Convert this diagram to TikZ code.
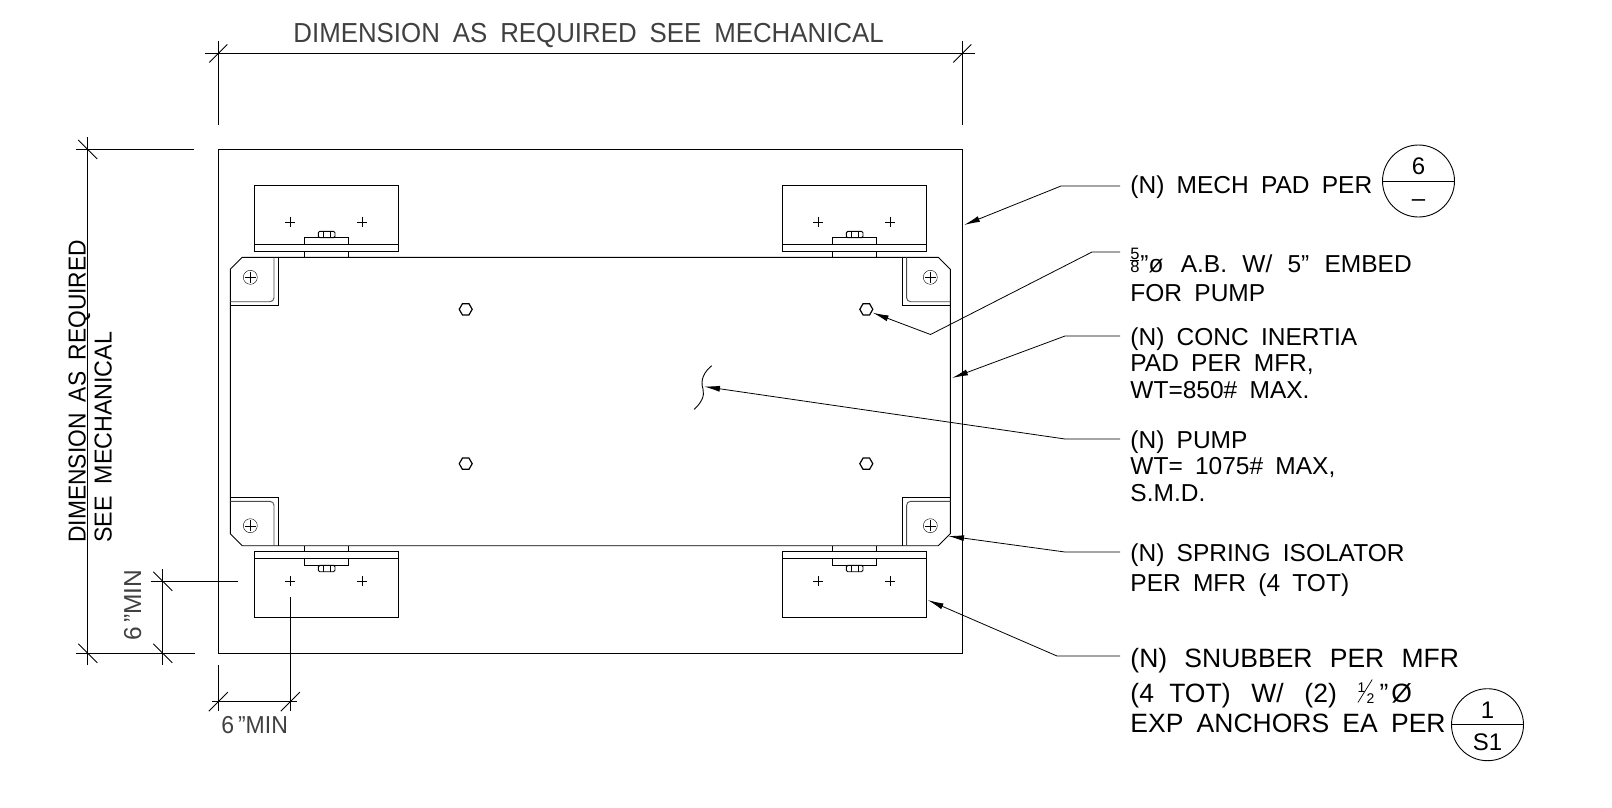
\documentclass[tikz,border=0pt]{standalone}
\usepackage{fontspec}
\setmainfont[WordSpace=1.8]{Liberation Sans}
\usetikzlibrary{arrows.meta,shapes.geometric,shapes.multipart}
\newcommand{\stackfive}{\rlap{\raisebox{13pt}{\fontsize{16.5}{16.5}\selectfont 5}}\rlap{\fontsize{16.5}{16.5}\selectfont 8}\rlap{\rule[12pt]{9pt}{.7pt}}\hspace{10pt}}
\newcommand{\halfmark}{\rlap{\raisebox{10pt}{\fontsize{14}{14}\selectfont 1}}\rlap{\hspace{9pt}\raisebox{-1pt}{\fontsize{14}{14}\selectfont 2}}\rlap{\rotatebox{58}{\rule{27pt}{.7pt}}}\hspace{19pt}}
\tikzset{
  snubber/.pic = {
    \draw (0,-216.2) rectangle (144,-150.2);
    \draw (0,-157.2) -- (144,-157.2);
    \draw (50.4,-157.2) -- (50.4,-164.2) -- (93.7,-164.2) -- (93.7,-157.2);
    \draw (50.4,-150.2) -- (50.4,-144.2) (93.7,-150.2) -- (93.7,-144.2);
    \draw[rounded corners=1.5pt] (64,-163.8) rectangle (80.7,-170.2);
    \draw[thin] (69,-163.8) -- (69,-170.2) (75.7,-163.8) -- (75.7,-170.2);
    \draw[thin] (31,-179.8) -- (41,-179.8) (36,-174.8) -- (36,-184.8);
    \draw[thin] (103,-179.8) -- (113,-179.8) (108,-174.8) -- (108,-184.8);
  },
  bracket/.pic = {
    \draw (0,48) -- (48,48) -- (48,0);
    \draw[rounded corners=4pt, black!70] (0,44.4) -- (43.7,44.4) -- (43.7,0);
    \draw[thin] (20,20) circle (7);
    \draw[thin] (14.5,20) -- (25.5,20) (20,14.5) -- (20,25.5);
  }
}
\begin{document}
\begin{tikzpicture}[
  x=1pt, y=-1pt, line width=.9pt,
  note/.style = {anchor=north west, align=left, inner sep=0pt,
    font=\fontsize{24.5}{26.5}\selectfont},
  bignote/.style = {note, font=\fontsize{26.5}{30}\selectfont},
  dimtext/.style = {inner sep=0pt, text=black!75, font=\fontsize{24.5}{27}\selectfont},
  leader/.style = {line width=.8pt, -{Latex[length=16pt,width=6pt]}},
  refmark/.style = {circle split, draw, minimum size=72pt, inner sep=1pt,
    font=\fontsize{24}{24}\selectfont},
  boltmark/.style = {regular polygon, regular polygon sides=6, draw, line width=1.2pt, minimum size=13pt, inner sep=0pt}]
\useasboundingbox (0,0) rectangle (1612,807);
% pad and inertia base
\draw (218.3,149.5) rectangle (962.3,653.3);
\draw (242.3,257.3) -- (938.3,257.3) -- (950.3,269.3) -- (950.3,533.7) -- (938.3,545.7)
  -- (242.3,545.7) -- (230.3,533.7) -- (230.3,269.3) -- cycle;
\foreach \x in {254.3,782.3} {
  \pic at (\x,401.5) {snubber};
  \pic[yscale=-1] at (\x,401.5) {snubber};
}
\pic at (230.3,257.3) {bracket};
\pic[xscale=-1] at (950.3,257.3) {bracket};
\pic[yscale=-1] at (230.3,545.7) {bracket};
\pic[xscale=-1,yscale=-1] at (950.3,545.7) {bracket};
\node[boltmark] (boltnw) at (465.7,309.3) {};
\node[boltmark] (boltne) at (866.3,309.3) {};
\node[boltmark] (boltsw) at (465.7,463.7) {};
\node[boltmark] (boltse) at (866.3,463.7) {};
\draw (711.7,365.7) .. controls (704,372) and (700,380) .. (703,389)
  .. controls (705,396) and (701,403) .. (694.3,409.3);
% dimensions
\draw (205,53.5) -- (975,53.5);
\draw (218.3,41) -- (218.3,125) (962.3,41) -- (962.3,125);
\foreach \x in {218.3,962.3} \draw (\x-9,62.5) -- (\x+9,44.5);
\draw (75.7,149.5) -- (194,149.5) (75.7,653.3) -- (195,653.3);
\draw (87.7,137) -- (87.7,665);
\draw (162.7,569.3) -- (162.7,665);
\draw (150.7,581.3) -- (238.3,581.3);
\foreach \p in {(87.7,149.5),(87.7,653.3),(162.7,581.3),(162.7,653.3)}
  \draw \p +(-9.5,-9.5) -- +(9.5,9.5);
\draw (212.3,701.7) -- (296.7,701.7);
\draw (218.3,665.3) -- (218.3,711) (290.3,597.3) -- (290.3,711);
\foreach \p in {(218.3,701.7),(290.3,701.7)}
  \draw \p +(-9.5,9.5) -- +(9.5,-9.5);
\node[dimtext, anchor=base west, xscale=.94, font=\fontsize{27.5}{30}\selectfont] (widthdim) at (293,42.7) {DIMENSION  AS  REQUIRED  SEE  MECHANICAL};
\node[dimtext, anchor=base west, rotate=90, xscale=.93, text=black] (depthdim) at (85.7,543) {DIMENSION AS REQUIRED};
\node[dimtext, anchor=base west, rotate=90, xscale=.95, text=black] (depthdimb) at (111.7,543) {SEE MECHANICAL};
\node[dimtext, anchor=base west, rotate=90] (edgedimy) at (141,641) {6\,”MIN};
\node[dimtext, anchor=base west, xscale=.94] (edgedimx) at (221,733) {6\,”MIN};
% callouts
\node[note] (padnote) at (1130,175) {(N) MECH PAD PER};
\node[refmark] (padref) at (1418.5,181) {6\rule[-5pt]{0pt}{17pt}\nodepart{lower}\rule{0pt}{24pt}–};
\node[note] (boltnote) at (1130,248) {\stackfive ”ø\hspace{5pt} A.B.\hspace{3pt} W/\hspace{3pt} 5”\hspace{3pt} EMBED\\[2.3pt]FOR PUMP};
\node[note] (basenote) at (1130,327) {(N) CONC INERTIA\\PAD PER MFR,\\WT=850\# MAX.};
\node[note] (pumpnote) at (1130,430) {(N) PUMP\\WT= 1075\# MAX,\\S.M.D.};
\node[note] (isonote) at (1130,543) {(N) SPRING ISOLATOR\\[3.5pt]PER MFR (4 TOT)};
\node[bignote] (snubnote) at (1130,648) {(N)\hspace{4pt} SNUBBER\hspace{4pt} PER\hspace{4pt} MFR\\[5pt](4\hspace{2pt} TOT)\hspace{7.5pt} W/\hspace{7.5pt} (2)\hspace{7.5pt} \halfmark\hspace{3pt}”\hspace{3pt}Ø\\EXP ANCHORS EA PER};
\node[refmark] (snubref) at (1487.5,724.7) {1\rule[-5pt]{0pt}{17pt}\nodepart{lower}\rule{0pt}{24pt}S1};
\coordinate (padtip) at (964,225);
\coordinate (bolttip) at (872.7,312.7);
\coordinate (basetip) at (952,378);
\coordinate (pumptip) at (704,386.5);
\coordinate (isotip) at (948,536);
\coordinate (snubtip) at (927.7,600);
\draw[leader] ([shift={(-10,11)}]padnote.north west) -- (1061,186) -- (padtip);
\draw[leader] ([shift={(-10,4)}]boltnote.north west) -- (1092,252) -- (930.5,334.5) -- (bolttip);
\draw[leader] ([shift={(-10,9)}]basenote.north west) -- (1065,336) -- (basetip);
\draw[leader] ([shift={(-10,9)}]pumpnote.north west) -- (1065,439) -- (pumptip);
\draw[leader] ([shift={(-10,9)}]isonote.north west) -- (1065,552) -- (isotip);
\draw[leader] ([shift={(-10,8)}]snubnote.north west) -- (1057,656) -- (snubtip);
\end{tikzpicture}
\end{document}
